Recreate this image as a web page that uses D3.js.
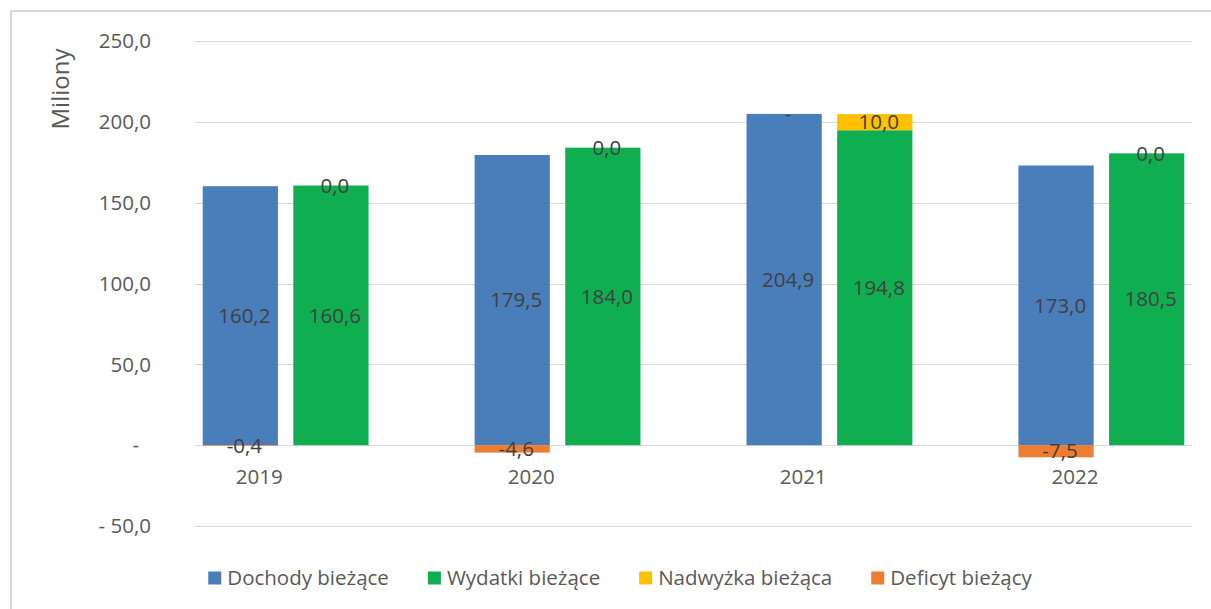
<!DOCTYPE html>
<html>
<head>
<meta charset="utf-8">
<style>
    body { margin: 0; background: #fff; }
    text { font-family: "Open Sans", sans-serif; }
</style>
</head>
<body>
    <div id="vizDiv"></div>

    <script src="https://d3js.org/d3.v7.min.js"></script>
    <script>
        // chart values
        const years = ["2019", "2020", "2021", "2022"];
        const dochody = [160.2, 179.5, 204.9, 173.0];
        const wydatki = [160.6, 184.0, 194.8, 180.5];
        const nadwyzka = [0.0, 0.0, 10.0, 0.0];
        const deficyt = [-0.4, -4.6, 0.0, -7.5];
        const yTicks = [-50, 0, 50, 100, 150, 200, 250];
        const seriesNames = ["Dochody bieżące", "Wydatki bieżące", "Nadwyżka bieżąca", "Deficyt bieżący"];
        const seriesColors = ["#4a7ebb", "#0fae50", "#ffc000", "#ed7d31"];

        const width = 1211, height = 609;
        const fs = 20.5;

        const svg = d3.select("#vizDiv")
            .append("svg")
            .attr("width", width)
            .attr("height", height);

        // chart border (only top/left visible in the picture)
        svg.append("rect")
            .attr("x", 11).attr("y", 11)
            .attr("width", 1230).attr("height", 640)
            .attr("fill", "none")
            .attr("stroke", "#d9d9d9")
            .attr("stroke-width", 2);

        // 11 slots: blue, green, gap for each year
        const x = d3.scaleBand()
            .domain(d3.range(11))
            .range([195, 1192])
            .paddingInner(0.17)
            .paddingOuter(0.085);

        const y = d3.scaleLinear()
            .domain([-50, 250])
            .range([526, 41]);

        const fmt = v => d3.format(".1f")(v).replace(".", ",").replace("\u2212", "-");

        // gridlines
        svg.append("g")
            .selectAll("line")
            .data(yTicks)
            .enter()
            .append("line")
            .attr("x1", 195).attr("x2", 1192)
            .attr("y1", d => Math.round(y(d)) + 0.5)
            .attr("y2", d => Math.round(y(d)) + 0.5)
            .attr("stroke", "#d9d9d9")
            .attr("stroke-width", 1);

        // y axis labels
        svg.append("g")
            .selectAll("text")
            .data(yTicks)
            .enter()
            .append("text")
            .attr("x", d => d === 0 ? 139 : 151)
            .attr("y", d => y(d))
            .attr("dy", "0.35em")
            .attr("text-anchor", "end")
            .attr("font-size", fs)
            .attr("fill", "#595959")
            .text(d => d === 0 ? "-" : (d < 0 ? "- " + fmt(-d) : fmt(d)));

        svg.append("text")
            .attr("transform", "translate(69,89) rotate(-90)")
            .attr("text-anchor", "middle")
            .attr("font-size", 24)
            .attr("fill", "#595959")
            .text("Miliony");

        // build stacked segments
        const segs = [];
        years.forEach((yr, i) => {
            const b = 3 * i, g = 3 * i + 1;
            segs.push({ slot: b, y0: 0, y1: dochody[i], color: seriesColors[0], label: fmt(dochody[i]) });
            segs.push({ slot: b, y0: 0, y1: deficyt[i], color: seriesColors[3], label: deficyt[i] === 0 ? "-" : fmt(deficyt[i]), top: deficyt[i] === 0 ? dochody[i] : null });
            segs.push({ slot: g, y0: 0, y1: wydatki[i], color: seriesColors[1], label: fmt(wydatki[i]) });
            segs.push({ slot: g, y0: wydatki[i], y1: wydatki[i] + nadwyzka[i], color: seriesColors[2], label: fmt(nadwyzka[i]) });
        });

        svg.append("g")
            .selectAll("rect")
            .data(segs)
            .enter()
            .append("rect")
            .attr("x", d => x(d.slot))
            .attr("width", x.bandwidth())
            .attr("y", d => y(Math.max(d.y0, d.y1)))
            .attr("height", d => Math.abs(y(d.y0) - y(d.y1)))
            .attr("fill", d => d.color);

        svg.append("g")
            .selectAll("text")
            .data(segs)
            .enter()
            .append("text")
            .attr("x", d => x(d.slot) + x.bandwidth() / 2 + 4)
            .attr("y", d => d.top != null ? y(d.top) : y((d.y0 + d.y1) / 2))
            .attr("dy", "0.35em")
            .attr("text-anchor", "middle")
            .attr("font-size", fs)
            .attr("fill", "#404040")
            .text(d => d.label);

        // category labels
        svg.append("g")
            .selectAll("text")
            .data(years)
            .enter()
            .append("text")
            .attr("x", (d, i) => x(3 * i) + x.bandwidth() / 2 + 19)
            .attr("y", 477)
            .attr("dy", "0.35em")
            .attr("text-anchor", "middle")
            .attr("font-size", fs)
            .attr("fill", "#595959")
            .text(d => d);

        // legend
        const legend = svg.append("g");
        const items = legend.selectAll("g")
            .data(seriesNames)
            .enter()
            .append("g");
        items.append("rect")
            .attr("width", 13).attr("height", 13)
            .attr("y", -6.5)
            .attr("fill", (d, i) => seriesColors[i]);
        items.append("text")
            .attr("x", 19)
            .attr("dy", "0.35em")
            .attr("font-size", fs)
            .attr("fill", "#595959")
            .text(d => d);
        let cx = 0;
        items.each(function () {
            const w = 19 + d3.select(this).select("text").node().getComputedTextLength();
            d3.select(this).attr("transform", `translate(${cx},0)`);
            cx += w + 39;
        });
        const total = cx - 39;
        legend.attr("transform", `translate(${620 - total / 2},578)`);
    </script>
</body>
</html>
